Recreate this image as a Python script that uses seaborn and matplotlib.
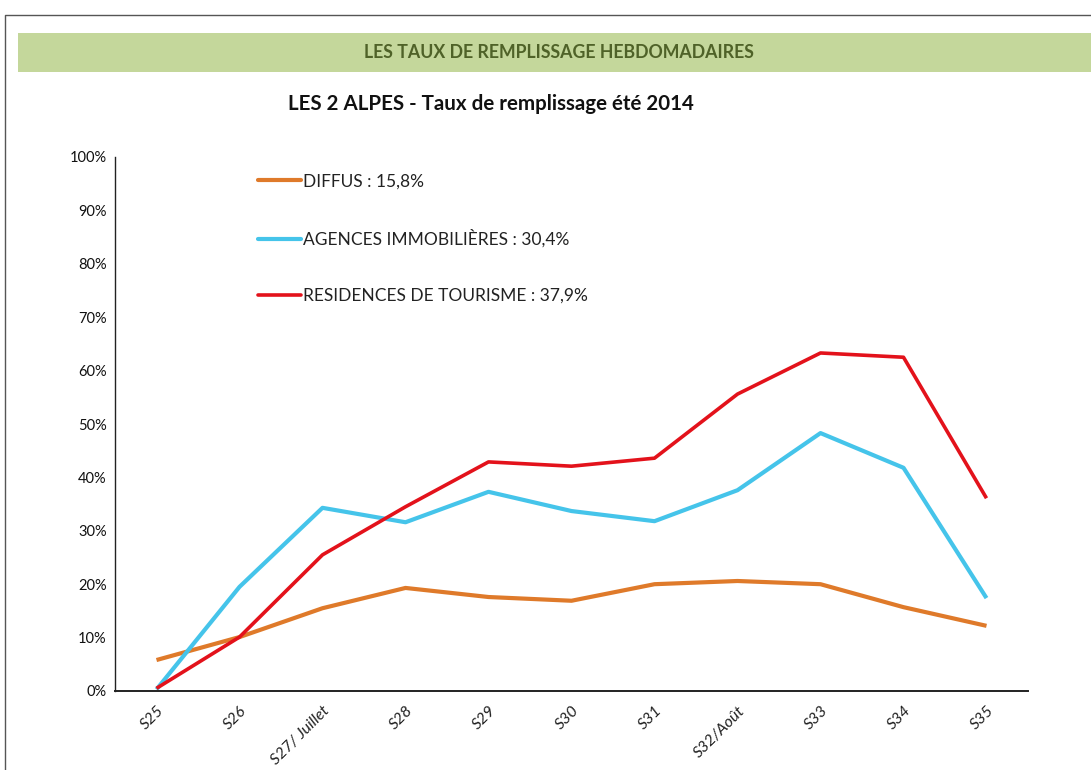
import matplotlib
matplotlib.use("Agg")
import matplotlib.pyplot as plt
import seaborn as sns
import pandas as pd
import numpy as np
from matplotlib.lines import Line2D
from matplotlib.patches import Rectangle

weeks = ["S25", "S26", "S27/ Juillet", "S28", "S29", "S30", "S31", "S32/Août", "S33", "S34", "S35"]
diffus = [5.8, 10.1, 15.5, 19.3, 17.6, 16.9, 20.0, 20.6, 20.0, 15.7, 12.2]
agences = [0.3, 19.5, 34.3, 31.6, 37.3, 33.7, 31.8, 37.6, 48.3, 41.8, 17.4]
residences = [0.5, 10.1, 25.5, 34.5, 42.9, 42.1, 43.6, 55.6, 63.3, 62.5, 36.1]
series_names = ["DIFFUS : 15,8%", "AGENCES IMMOBILIÈRES : 30,4%", "RESIDENCES DE TOURISME : 37,9%"]
colors = ["#DF7A2A", "#45C4EA", "#E3121B"]
widths = [3.0, 3.0, 2.6]

sns.set_style("white")
plt.rcParams['font.family'] = ['Lato', 'DejaVu Sans']

fig = plt.figure(figsize=(10.91, 7.70), dpi=100)
W, H = 1091, 770

# outer frame
fig.add_artist(Line2D([5 / W, 5 / W, 1.0], [0.0, 1 - 15 / H, 1 - 15 / H],
                      transform=fig.transFigure, color="#555555", lw=1.0))
# green banner
fig.add_artist(Rectangle((18 / W, 1 - 72 / H), 1 - 18 / W, 39 / H, transform=fig.transFigure,
                         facecolor="#C4D79B", edgecolor="none"))
fig.text(559 / W, 1 - 53 / H, "LES TAUX DE REMPLISSAGE HEBDOMADAIRES", ha="center", va="center",
         fontsize=12.8, fontweight="bold", color="#4F6228")
fig.text(491 / W, 1 - 104 / H, "LES 2 ALPES - Taux de remplissage été 2014", ha="center", va="center",
         fontsize=14.8, fontweight="bold", color="#111111")

ax = fig.add_axes([115 / W, 1 - 691 / H, (1028 - 115) / W, (691 - 157) / H])

df = pd.DataFrame({
    "x": list(range(len(weeks))) * 3,
    "val": diffus + agences + residences,
    "serie": [series_names[0]] * len(weeks) + [series_names[1]] * len(weeks) + [series_names[2]] * len(weeks),
})
for name, c, w in zip(series_names, colors, widths):
    sns.lineplot(data=df[df["serie"] == name], x="x", y="val", color=c, lw=w, ax=ax,
                 label=name, solid_capstyle="butt")

ax.set_xlim(-0.5, len(weeks) - 0.5)
ax.set_ylim(0, 100)
ax.set_xlabel("")
ax.set_ylabel("")
for s in ["top", "right"]:
    ax.spines[s].set_visible(False)
for s in ["left", "bottom"]:
    ax.spines[s].set_color("#222222")
    ax.spines[s].set_linewidth(1.0)
ax.spines["bottom"].set_linewidth(1.4)

ax.set_yticks(np.arange(0, 101, 10))
ax.set_yticklabels([f"{v}%" for v in range(0, 101, 10)], fontsize=10.5, color="#111111")
ax.tick_params(axis="y", direction="out", length=4, width=0.8, color="#444444", pad=2)

ax.set_xticks(range(len(weeks)))
ax.set_xticklabels(weeks, rotation=45, ha="right", rotation_mode="anchor", fontsize=11.5,
                   color="#222222", style="italic")
ax.tick_params(axis="x", which="major", length=0, pad=9)
ax.set_xticks(np.arange(-0.5, len(weeks), 1.0), minor=True)
ax.tick_params(axis="x", which="minor", direction="inout", length=8, width=0.7, color="#999999")

handles = [Line2D([0], [0], color=c, lw=w) for c, w in zip(colors, widths)]
leg = ax.legend(handles, series_names, loc="upper left", bbox_to_anchor=(0.140, 0.999), frameon=False,
                fontsize=12.5, labelspacing=2.32, handlelength=2.45, handletextpad=0.1)
for t in leg.get_texts():
    t.set_color("#222222")

fig.savefig("out.png", dpi=100)
